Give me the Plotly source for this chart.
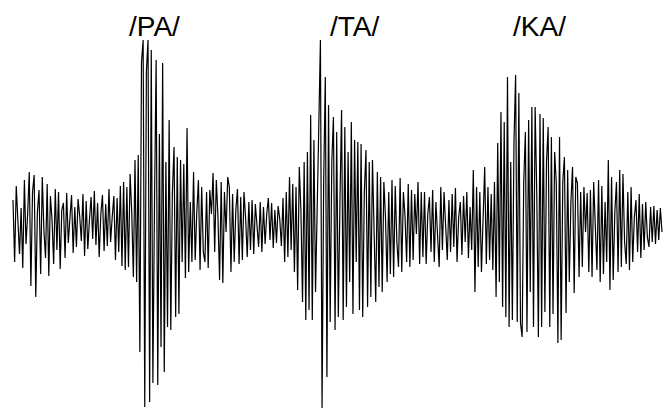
import numpy as np
import plotly.graph_objects as go

# Speech waveform of three syllables, amplitude samples per section
pre_noise = [22, -40, 36, 5, -32, 14, -46, 42, -22, 8,
             50, -64, 30, 47, -75, 10, 32, -52, 45, -8,
             -36, 38, -54, 26, 2, -42, 33, -28, 30, -47,
             12, 19, -36, 29, -21, 4, 27, -31, 15, -25,
             23, 6, -19, 28, -34, 21, -27, 2, 25, -17,
             31, -23, 19, -35, 8, 27, -29, 18, -24, 33,
             -20, 5, 26, -38, 24, -30, 36, -44, 40, -48]
pa_burst = [35, -45, 48, 10, -55, 62, -60, 67, -130, 160,
            182, -185, 150, 182, -180, 172, -161, 20, 162, -163,
            88, -125, 159, -150, 60, -105, 102, -108, 30, 75,
            -95, 65, -92, 62, -40, 58, -56, 94, -50, 20,
            -40, 50, -38, 10, 42, -48, 35, -30, -40, 30,
            -46, 32, 8]
gap_pa_ta = [49, -30, 42, 6, -58, 40, -61, 30, -10, 45,
             35, -50, 28, -40, 12, 33, -42, 25, -38, 30,
             4, -35, 20, -28, 22, -32, 18, -6, -25, 20,
             -30, 15, -22, 8, 24, -18, 19, -26, 12, -21,
             16, 3, -24, 24, -40, 30, -35, 45, -28, 38,
             -50]
ta_burst = [35, -68, 55, 12, -80, 60, -98, 70, -88, 107,
            -98, 82, -70, 30, 95, 182, -186, 40, 145, -155,
            117, -100, 60, 105, -108, 90, -95, 20, 112, -98,
            95, -85, 70, -60, 100, -92, 82, -40, 80, -88,
            78, -95, 30, 72, -85, 60, -75, 62, -10, -80,
            50, -65, 45, -70, 40, 5, -60, 30, -52, 42,
            -55, 36, -20, -45, 44, -50, 30, 6, -40, 38,
            -45, 32, -38, 28, -12, 40, -42, 30]
gap_ta_ka = [-35, 30, -42, 8, 25, -30, 32, -40, 20, -10,
             -45, 35, -28, 30, 2, -38, 22, -30, 28, -25,
             34, -40, 5, 20, -33, 26, -20, 30, -36, 15,
             -28, 52, -70, 35, -45, 30, -50, 18, 55, -42,
             35, -38, 28]
ka_burst = [-48, 40, -75, 79, -60, 110, -85, 100, -95, 145,
            -105, 60, -98, 80, 147, -100, 129, -101, -115, 40,
            90, -110, 102, -70, 115, -105, 115, 30, -115, 108,
            -105, 104, -90, 60, 95, -105, 85, -92, 70, 40,
            -121, 85, -118, 40, 65, -91, 52, -60, 20, 55,
            -71, 45, 39, -55, 30, -45, 35, -10, 29, -50]
tail_noise = [32, -55, 40, -8, -48, 42, -60, 36, -52, 20,
              -40, 62, -68, 45, -58, 10, 40, -50, 52, -45,
              48, -20, -42, 30, -48, 35, -40, 5, 22, -30,
              28, -36, 18, -28, 20, -15, -25, 15, -20, 16,
              -22, 12, -18, 14, -10]

syllables = ["/PA/", "/TA/", "/KA/"]

signal = np.array(pre_noise + pa_burst + gap_pa_ta + ta_burst
                  + gap_ta_ka + ka_burst + tail_noise, dtype=float)
t = np.arange(len(signal))

W, H = 664, 408
left_px, right_px = 13, 662
step = (right_px - left_px) / (len(signal) - 1)
x0 = -left_px / step
x1 = x0 + W / step

fig = go.Figure()
fig.add_trace(go.Scatter(
    x=t, y=signal, mode="lines",
    line=dict(color="black", width=1.2),
    hoverinfo="skip", showlegend=False,
))

label_x = [154, 354, 539]
for name, px in zip(syllables, label_x):
    fig.add_annotation(
        text=name, xref="paper", yref="paper",
        x=px / W, y=1 - 27 / H, xanchor="center", yanchor="middle",
        showarrow=False,
        font=dict(family="Liberation Sans, Arial, sans-serif", size=28, color="black"),
    )

fig.update_layout(
    width=W, height=H,
    margin=dict(l=0, r=0, t=0, b=0),
    paper_bgcolor="white", plot_bgcolor="white",
    xaxis=dict(range=[x0, x1], visible=False, fixedrange=True),
    yaxis=dict(range=[222 - H, 222], visible=False, fixedrange=True),
)

fig.write_html("out.html")
